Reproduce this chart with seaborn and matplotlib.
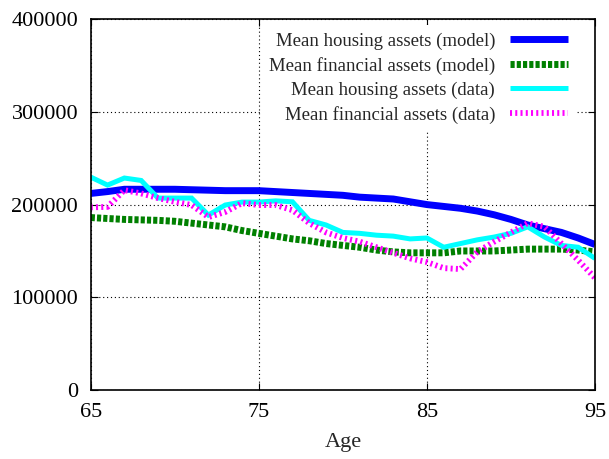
import numpy as np
import pandas as pd
import matplotlib
matplotlib.use("Agg")
import matplotlib.pyplot as plt
import seaborn as sns

ages = list(range(65, 96))

housing_model = [212000, 214000, 216500, 216500, 216500, 216500, 216000, 215500, 215000, 215000,
                 215000, 214000, 213000, 212000, 211000, 210000, 208000, 207000, 206000, 203000,
                 200000, 198000, 196000, 193000, 189000, 184000, 178000, 174000, 170000, 164000, 157000]

financial_model = [186000, 185000, 184000, 183500, 183000, 182000, 180000, 178000, 176000, 172000,
                   169000, 166000, 163000, 161000, 158000, 156000, 154000, 151000, 149000, 148000,
                   148000, 148000, 150000, 150000, 150000, 151000, 152000, 152000, 152000, 151000, 149000]

housing_data = [229600, 221000, 228600, 226000, 207000, 207000, 207000, 188700, 199500, 202700,
                202700, 204000, 203000, 183000, 178000, 170000, 169000, 167000, 166000, 163000,
                164000, 154000, 158000, 162000, 165000, 169000, 176000, 165000, 156000, 154000, 142000]

financial_data = [197000, 197500, 215600, 212000, 207000, 203000, 199500, 186500, 192000, 201600,
                  199500, 199500, 194000, 180000, 170000, 164000, 160000, 154000, 148000, 142000,
                  138000, 131500, 130500, 149000, 160000, 170000, 180000, 176000, 158000, 140000, 121000]

labels = ["Mean housing assets (model)", "Mean financial assets (model)",
          "Mean housing assets (data)", "Mean financial assets (data)"]

sns.set_style("ticks")
plt.rcParams['font.family'] = ['Liberation Serif', 'DejaVu Serif']

fig = plt.figure(figsize=(6.09, 4.59), dpi=100)
ax = fig.add_axes([0.149, 0.150, 0.828, 0.8086])

series = [housing_model, financial_model, housing_data, financial_data]
colors = ["#0000ff", "#008000", "#00ffff", "#ff00ff"]
widths = [5.0, 5.0, 3.6, 4.2]
dash_styles = [None, (0.6, 0.3), None, (0.35, 0.55)]

for vals, lab, col, lw, ds in zip(series, labels, colors, widths, dash_styles):
    df = pd.DataFrame({"Age": ages, "Value": vals})
    sns.lineplot(data=df, x="Age", y="Value", ax=ax, color=col, linewidth=lw, label=lab)
    l = ax.get_lines()[-1]
    l.set_solid_capstyle("butt")
    l.set_solid_joinstyle("miter")
    if ds is not None:
        l.set_dashes(ds)
        l.set_dash_capstyle("butt")

ax.set_xlim(65, 95)
ax.set_ylim(0, 400000)
ax.set_xticks([65, 75, 85, 95])
ax.set_yticks([0, 100000, 200000, 300000, 400000])
ax.set_yticklabels(["0", "100000", "200000", "300000", "400000"])
ax.set_xlabel("Age", fontsize=16, labelpad=8)
ax.set_ylabel("")
ax.tick_params(direction="in", length=5, width=0.8, top=True, right=True,
               labelsize=16, colors="black", pad=9)
for sp in ax.spines.values():
    sp.set_linewidth(1.2)
    sp.set_color("black")
ax.grid(True, linestyle=(0, (1, 2.5)), color="black", linewidth=0.8)
ax.set_axisbelow(True)

leg = ax.legend(loc="upper right", bbox_to_anchor=(0.962, 0.984), fontsize=13.5,
                markerfirst=False, handlelength=3.1,
                frameon=True, fancybox=False, framealpha=1, edgecolor="none",
                labelspacing=0.37, borderaxespad=0.0, handletextpad=0.8)
leg.get_frame().set_facecolor("white")
for h in leg.get_lines():
    h.set_solid_capstyle("butt")

fig.savefig("out.png", dpi=100)
